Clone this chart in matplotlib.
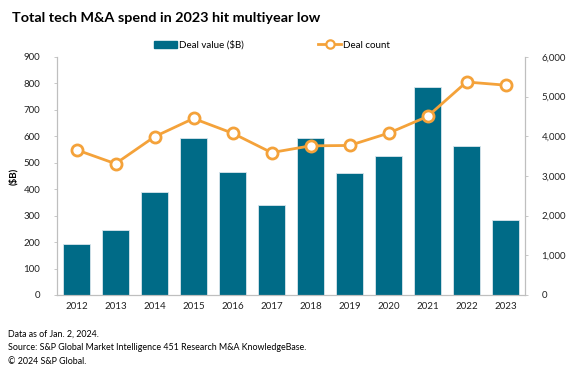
import matplotlib.pyplot as plt
import numpy as np
from matplotlib.patches import Rectangle
from matplotlib.lines import Line2D

years = ["2012", "2013", "2014", "2015", "2016", "2017",
         "2018", "2019", "2020", "2021", "2022", "2023"]
deal_value = [192, 246, 391, 593, 466, 340, 593, 460, 527, 788, 564, 283]
deal_count = [3660, 3310, 3990, 4450, 4080, 3590, 3760, 3770, 4080, 4500, 5370, 5290]

teal = "#006B87"
orange = "#F4A23A"
spine = "#BFBFBF"

plt.rcParams["font.family"] = ["Lato", "DejaVu Sans"]

fig = plt.figure(figsize=(5.75, 3.71), dpi=100)
ax = fig.add_axes([57 / 575, 1 - 295 / 371, 468 / 575, 238 / 371])
ax2 = ax.twinx()

x = np.arange(len(years))
ax.bar(x, deal_value, width=0.69, color=teal, edgecolor="#D9E6EC",
       linewidth=0.6, zorder=2)
ax2.plot(x, deal_count, color=orange, lw=2, marker="o", ms=8,
         mfc="white", mec=orange, mew=2, zorder=3)

ax.set_xlim(-0.5, len(years) - 0.5)
ax.set_ylim(0, 900)
ax.set_yticks(np.arange(0, 901, 100))
ax2.set_ylim(0, 6000)
ax2.set_yticks(np.arange(0, 6001, 1000))
ax2.set_yticklabels([f"{v:,}" for v in range(0, 6001, 1000)])
ax.set_xticks(x)
ax.set_xticklabels(years)

for a in (ax, ax2):
    a.spines["top"].set_visible(False)
    for s in ("left", "right", "bottom"):
        a.spines[s].set_color(spine)
        a.spines[s].set_linewidth(0.8)
    a.tick_params(labelsize=7, colors="#222222", length=2, width=0.6)
    a.tick_params(axis="y", pad=10)
ax.tick_params(axis="x", length=0, pad=5)
ax.tick_params(axis="y", color=spine)
ax2.tick_params(axis="y", color=spine)

ax.set_ylabel("($B)", fontsize=7, fontweight="bold", labelpad=4)

handles = [
    Rectangle((0, 0), 1, 0.45, color=teal),
    Line2D([], [], color=orange, lw=2, marker="o", ms=6, mfc="white",
           mec=orange, mew=1.6),
]
leg = fig.legend(handles, ["Deal value ($B)", "Deal count"], loc="center",
                 bbox_to_anchor=(272 / 575, 1 - 45 / 371), ncol=2, frameon=False,
                 fontsize=7, columnspacing=7.6, handlelength=2.4,
                 handletextpad=0.2, handleheight=0.7)

fig.text(12 / 575, 1 - 18 / 371, "Total tech M&A spend in 2023 hit multiyear low",
         fontsize=10.4, fontweight="bold", va="center", ha="left")
fig.text(8 / 575, 1 - 334 / 371, "Data as of Jan. 2, 2024.", fontsize=6.4, va="center")
fig.text(8 / 575, 1 - 348 / 371,
         "Source: S&P Global Market Intelligence 451 Research M&A KnowledgeBase.",
         fontsize=6.4, va="center")
fig.text(8 / 575, 1 - 361 / 371, "\u00a9 2024 S&P Global.", fontsize=6.4, va="center")

fig.savefig("out.png", dpi=100)
